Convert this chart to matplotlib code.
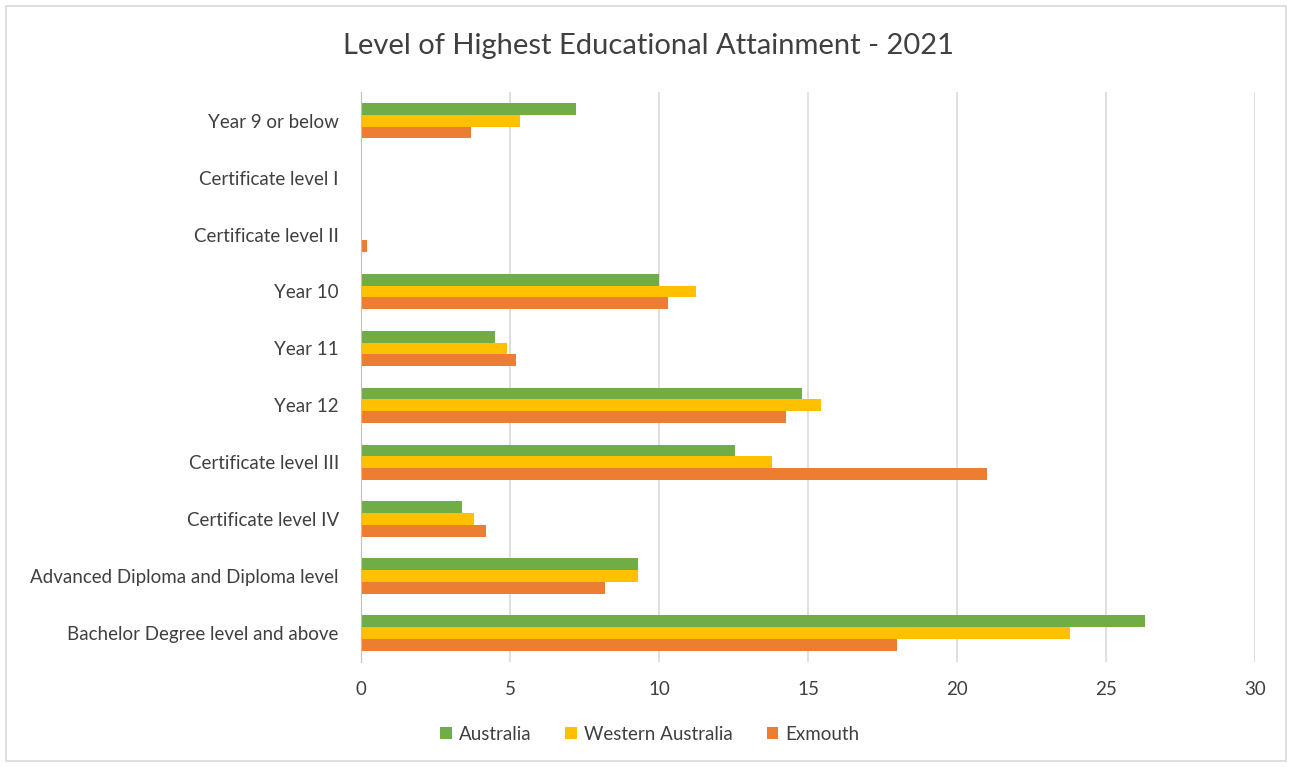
import matplotlib.pyplot as plt
import numpy as np
from matplotlib.patches import Rectangle

plt.rcParams['font.family'] = ['Lato', 'DejaVu Sans']

# categories top to bottom
levels = ['Year 9 or below', 'Certificate level I', 'Certificate level II',
          'Year 10', 'Year 11', 'Year 12', 'Certificate level III',
          'Certificate level IV', 'Advanced Diploma and Diploma level',
          'Bachelor Degree level and above']

# percent of population
australia = [7.2, 0.0, 0.05, 10.0, 4.5, 14.8, 12.55, 3.4, 9.3, 26.3]
western_australia = [5.35, 0.0, 0.0, 11.25, 4.9, 15.45, 13.8, 3.8, 9.3, 23.8]
exmouth = [3.7, 0.0, 0.2, 10.3, 5.2, 14.25, 21.0, 4.2, 8.2, 18.0]

series = [('Australia', australia, '#70AD47'),
          ('Western Australia', western_australia, '#FFC000'),
          ('Exmouth', exmouth, '#ED7D31')]

txt = '#404040'

fig = plt.figure(figsize=(12.92, 7.67), dpi=100)
ax = fig.add_axes([0.2794, 0.137, 0.692, 0.743])

y = np.arange(len(levels))
h = 0.21
for i, (name, vals, col) in enumerate(series):
    ax.barh(y + (i - 1) * h, vals, height=h, color=col, label=name, zorder=3)

ax.set_xlim(0, 30)
ax.set_ylim(len(levels) - 0.5, -0.5)
ax.set_xticks(range(0, 31, 5))
ax.set_yticks(y)
ax.set_yticklabels(levels)
ax.xaxis.grid(True, color='#D9D9D9', linewidth=1.2, zorder=0)
for s in ['top', 'right', 'bottom']:
    ax.spines[s].set_visible(False)
ax.spines['left'].set_color('#BFBFBF')
ax.spines['left'].set_zorder(4)
ax.tick_params(axis='both', length=0, labelsize=13.5, colors=txt)
ax.tick_params(axis='x', pad=14)
ax.tick_params(axis='y', pad=16)

fig.text(0.502, 0.94, 'Level of Highest Educational Attainment - 2021',
         ha='center', va='center', fontsize=21, color=txt)

fig.legend(loc='center', bbox_to_anchor=(0.503, 0.043), ncol=3, frameon=False,
           fontsize=13.5, labelcolor=txt, handlelength=0.6, handleheight=0.6,
           handletextpad=0.4, columnspacing=1.8)

# chart border
fig.patches.append(Rectangle((0.005, 0.008), 0.99, 0.984, transform=fig.transFigure,
                             fill=False, edgecolor='#D9D9D9', linewidth=1.2))

fig.savefig('out.png', dpi=100)
